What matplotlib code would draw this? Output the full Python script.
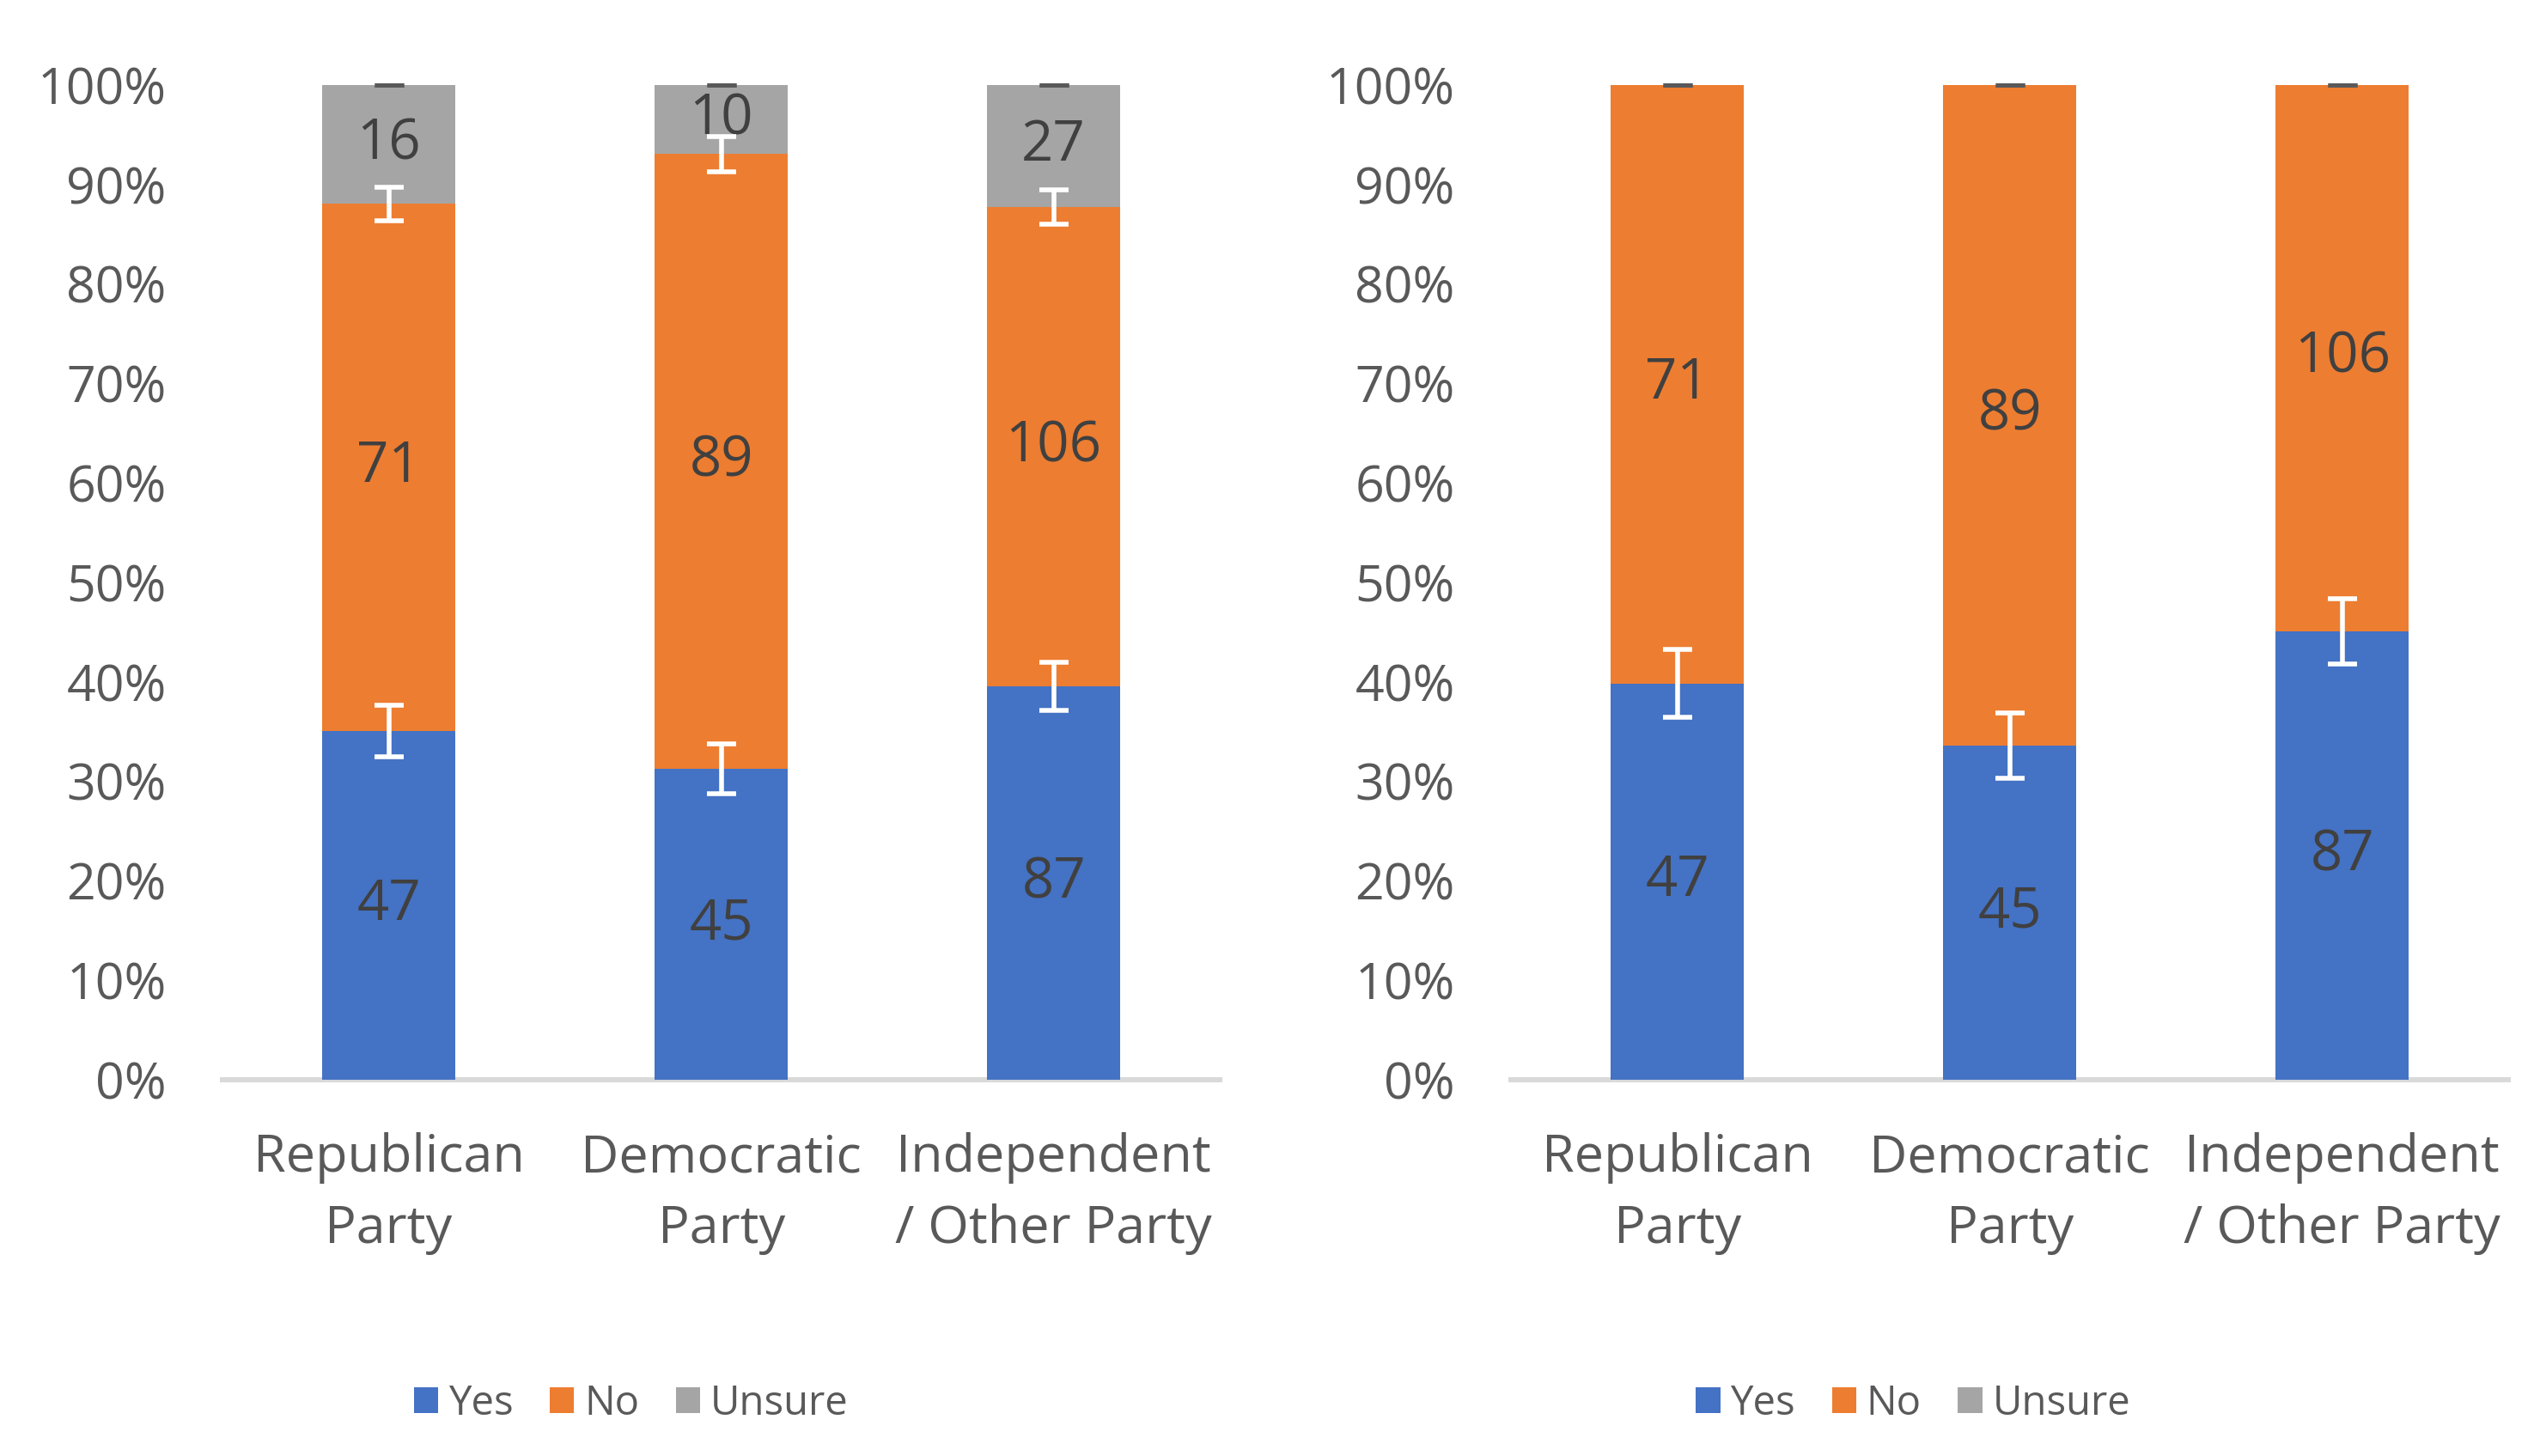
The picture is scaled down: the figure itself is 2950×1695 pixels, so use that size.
import numpy as np
import matplotlib.pyplot as plt
from matplotlib.patches import Patch

plt.rcParams["font.family"] = ["Open Sans", "DejaVu Sans"]

# %% Daten

parteien = ["Republican\nParty", "Democratic\nParty", "Independent\n/ Other Party"]
serien = ["Yes", "No", "Unsure"]
farben = ["#4472C4", "#ED7D31", "#A5A5A5"]

# linkes Diagramm: Anzahl Yes / No / Unsure
links_yes = np.array([47, 45, 87])
links_no = np.array([71, 89, 106])
links_unsure = np.array([16, 10, 27])
links_err_yes = np.array([0.026, 0.025, 0.0245])
links_err_no = np.array([0.017, 0.018, 0.017])

# rechtes Diagramm: nur Yes / No
rechts_yes = np.array([47, 45, 87])
rechts_no = np.array([71, 89, 106])
rechts_err_yes = np.array([0.034, 0.033, 0.0325])

tick_farbe = "#595959"
label_farbe = "#404040"


def diagramm(ax, werte, fehler):
    x = np.arange(len(parteien))
    gesamt = np.sum(werte, axis=0)
    unten = np.zeros(len(parteien))
    for i, w in enumerate(werte):
        anteil = w / gesamt
        ax.bar(x, anteil, 0.4, bottom=unten, color=farben[i], linewidth=0, zorder=2)
        for xi, yi, hi, wi in zip(x, unten, anteil, w):
            ax.text(xi, yi + hi / 2, str(wi), ha="center", va="center",
                    fontsize=47, color=label_farbe, zorder=4)
        unten = unten + anteil
        if fehler[i] is None:
            eb = ax.errorbar(x, unten, yerr=np.zeros(len(x)), fmt="none",
                             ecolor=tick_farbe, elinewidth=0, capsize=12,
                             capthick=3.6, zorder=5)
        else:
            eb = ax.errorbar(x, unten, yerr=fehler[i], fmt="none", ecolor="white",
                             elinewidth=4, capsize=12, capthick=4, zorder=5)
        for teil in eb.lines:
            for k in (teil if isinstance(teil, tuple) else [teil]):
                if k is not None:
                    k.set_clip_on(False)

    ax.set_xlim(-0.5, len(parteien) - 0.5)
    ax.set_ylim(0, 1)
    ax.set_yticks(np.arange(0, 1.01, 0.1))
    ax.set_yticklabels([f"{int(round(v * 100))}%" for v in np.arange(0, 1.01, 0.1)])
    ax.set_xticks(x)
    ax.set_xticklabels(parteien, linespacing=1.5)
    ax.tick_params(axis="y", length=0, pad=47, labelsize=42.5, labelcolor=tick_farbe)
    ax.tick_params(axis="x", length=0, pad=44, labelsize=44, labelcolor=tick_farbe)
    for s in ["top", "left", "right"]:
        ax.spines[s].set_visible(False)
    ax.spines["bottom"].set_color("#D9D9D9")
    ax.spines["bottom"].set_linewidth(4.3)
    ax.spines["bottom"].set_zorder(1)


fig = plt.figure(figsize=(29.5, 16.95), dpi=100)
ax1 = fig.add_axes([0.0878, 0.2584, 0.3936, 0.6832])
ax2 = fig.add_axes([0.5963, 0.2584, 0.3936, 0.6832])

diagramm(ax1, [links_yes, links_no, links_unsure], [links_err_yes, links_err_no, None])
diagramm(ax2, [rechts_yes, rechts_no], [rechts_err_yes, None])

handles = [Patch(facecolor=f, edgecolor="none") for f in farben]
for xpos in (0.249, 0.755):
    fig.legend(handles, serien, loc="center", bbox_to_anchor=(xpos, 0.036), ncol=3,
               frameon=False, fontsize=34, handlelength=0.6, handleheight=0.6,
               handletextpad=0.25, columnspacing=0.9, labelcolor=tick_farbe)

fig.savefig("out.png", dpi=100, facecolor="white")
